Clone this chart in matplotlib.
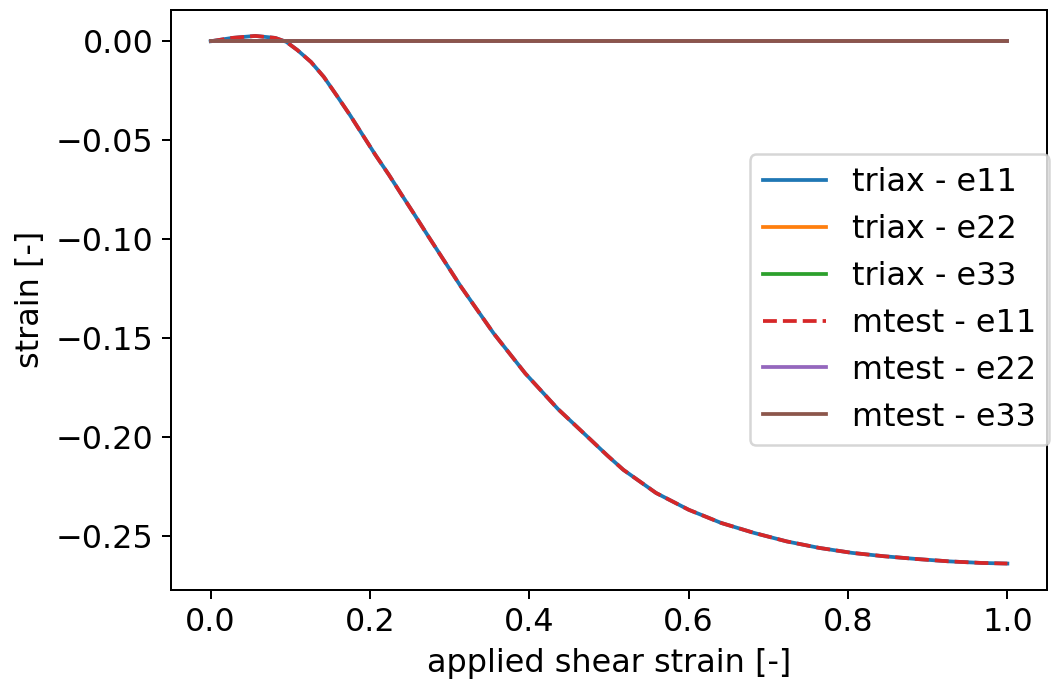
import numpy as np
import matplotlib
matplotlib.use("Agg")
from matplotlib import pyplot as plt

# applied shear strain and the e11 response
gamma = [0.0, 0.027, 0.056, 0.081, 0.095, 0.109, 0.126, 0.142, 0.158, 0.175,
         0.191, 0.207, 0.224, 0.240, 0.254, 0.273, 0.314, 0.355, 0.395,
         0.436, 0.477, 0.498, 0.518, 0.559, 0.600, 0.641, 0.682, 0.723,
         0.764, 0.805, 0.845, 0.886, 0.927, 0.968, 1.0]
e11 = [0.0, 0.0017, 0.0027, 0.0017, -0.0003, -0.0045, -0.0105, -0.0180,
       -0.0273, -0.0374, -0.0475, -0.0576, -0.0677, -0.0778, -0.0865, -0.0985,
       -0.124, -0.1476, -0.168, -0.186, -0.2015, -0.2095, -0.2167, -0.2284,
       -0.2369, -0.2436, -0.2486, -0.2529, -0.2562, -0.2587, -0.2604,
       -0.2618, -0.263, -0.2638, -0.2641]
e22 = [0.0] * len(gamma)
e33 = [0.0] * len(gamma)

plt.rcParams['font.size'] = 12.75
fig = plt.figure(figsize=(1061 / 180, 682 / 180), dpi=180)
ax = fig.add_axes([0.161, 0.135, 0.826, 0.851])

ax.plot(gamma, e11, label='triax - e11', lw=1.5)
ax.plot(gamma, e22, label='triax - e22', lw=1.5)
ax.plot(gamma, e33, label='triax - e33', lw=1.5)
ax.plot(gamma, e11, '--', label='mtest - e11', lw=1.5)
ax.plot(gamma, e22, label='mtest - e22', lw=1.5)
ax.plot(gamma, e33, label='mtest - e33', lw=1.5)

ax.set_xlabel('applied shear strain [-]')
ax.set_ylabel('strain [-]')
ax.legend(loc='center right', bbox_to_anchor=(1.002, 0.5), borderaxespad=0)

fig.savefig('out.png', dpi=180)
